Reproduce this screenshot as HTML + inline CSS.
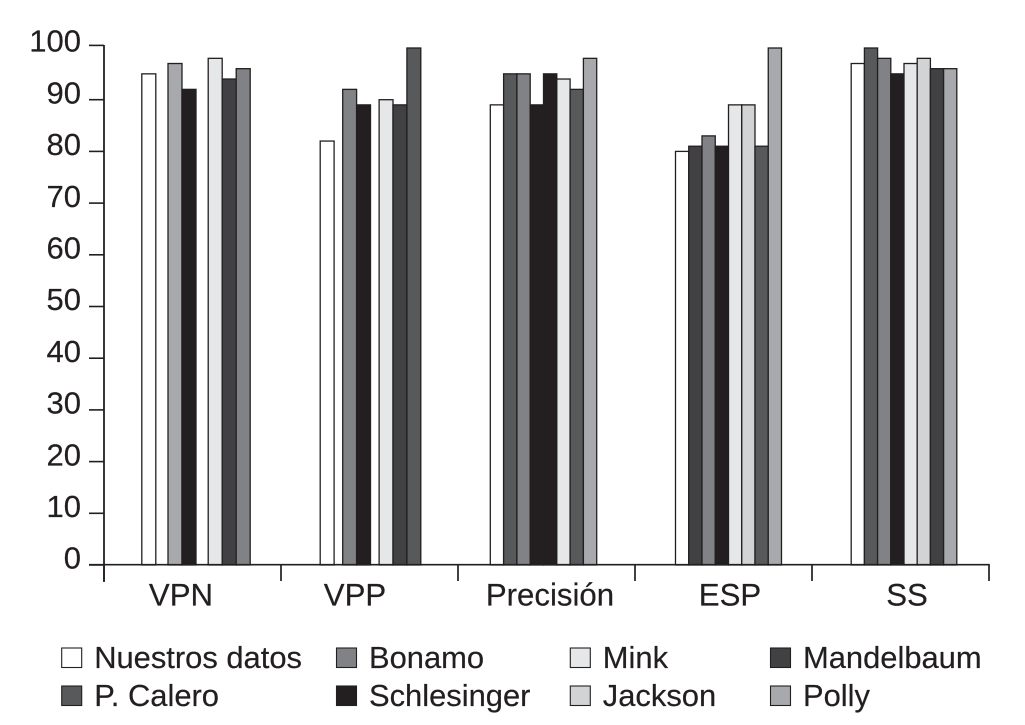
<!DOCTYPE html>
<html lang="es">
<head>
<meta charset="utf-8">
<title>Comparación de series</title>
<style>
  html, body { margin: 0; padding: 0; background: #fff; }
  #chart-wrap { width: 1025px; height: 725px; overflow: hidden; }
  svg { display: block; }
  text { font-family: "Liberation Sans", sans-serif; fill: #231f20; stroke: #231f20; stroke-width: 0.2px; }
</style>
</head>
<body>
<div id="chart-wrap">
<svg id="chart" width="1025" height="725" viewBox="0 0 1025 725" xmlns="http://www.w3.org/2000/svg"></svg>
</div>
<script>
// ---- data ----
const categories = ['VPN', 'VPP', 'Precisión', 'ESP', 'SS'];
const seriesNames = ['Nuestros datos', 'P. Calero', 'Bonamo', 'Schlesinger', 'Mink', 'Jackson', 'Mandelbaum', 'Polly'];
const nuestrosDatos = [95, 82, 89, 80, 97];
const pCalero = [null, null, 95, 81, 100];
const bonamo = [97, 92, 95, 83, 98];
const schlesinger = [92, 89, 89, 81, 95];
const mink = [null, null, 95, 89, 97];
const jackson = [98, 90, 94, 89, 98];
const mandelbaum = [94, 89, 92, 81, 96];
const polly = [96, 100, 98, 100, 96];
const seriesValues = [nuestrosDatos, pCalero, bonamo, schlesinger, mink, jackson, mandelbaum, polly];
const yTicks = [0, 10, 20, 30, 40, 50, 60, 70, 80, 90, 100];

// ---- styling and layout (not data) ----
const INK = '#231f20';
const categoryFills = [
  ['#ffffff', '#58595b', '#a7a9ac', '#231f20', '#e6e7e8', '#e6e7e8', '#414042', '#808285'],
  ['#ffffff', '#58595b', '#808285', '#231f20', '#e6e7e8', '#e6e7e8', '#414042', '#58595b'],
  ['#ffffff', '#58595b', '#808285', '#231f20', '#231f20', '#e6e7e8', '#58595b', '#a7a9ac'],
  ['#ffffff', '#414042', '#808285', '#231f20', '#e6e7e8', '#d1d3d4', '#58595b', '#a7a9ac'],
  ['#ffffff', '#58595b', '#808285', '#231f20', '#e6e7e8', '#d1d3d4', '#414042', '#a7a9ac']
];
const legendFills = ['#ffffff', '#58595b', '#808285', '#231f20', '#e6e7e8', '#d1d3d4', '#414042', '#a7a9ac'];
const groupShift = [3.5, 1, -3, 5, 3.5];
const groupBarWidth = [14, 13.9, 13.3, 13.25, 13.2];
const missingBarGap = [12.2, 8.6, 0, 0, 0];
const categoryLabelShift = [-11.5, -14.5, 3.5, 6.5, 6.5];

const AXIS_X = 104, AXIS_RIGHT = 989, BASE_Y = 565, UNIT = 5.17;
const bandWidth = (AXIS_RIGHT - AXIS_X) / categories.length;
const yScale = v => BASE_Y - v * UNIT;
const bandStart = i => AXIS_X + i * bandWidth;
const bandCenter = i => bandStart(i) + bandWidth / 2;

const svg = document.getElementById('chart');
const NS = 'http://www.w3.org/2000/svg';
function make(tag, attrs, parent) {
  const el = document.createElementNS(NS, tag);
  for (const k in attrs) el.setAttribute(k, attrs[k]);
  (parent || svg).appendChild(el);
  return el;
}

// ---- bars ----
const barsGroup = make('g', {});


categories.forEach((cat, c) => {
  const w = groupBarWidth[c];
  let total = 0;
  seriesValues.forEach(vals => { total += vals[c] === null ? missingBarGap[c] : w; });
  let cursor = bandCenter(c) + groupShift[c] - total / 2;
  seriesValues.forEach((vals, s) => {
    const v = vals[c];
    if (v === null) { cursor += missingBarGap[c]; return; }
    const top = yScale(v);
    const bar = make('rect', {
      x: cursor.toFixed(2), y: top.toFixed(2), width: w, height: (BASE_Y - top).toFixed(2),
      fill: categoryFills[c][s], stroke: INK, 'stroke-width': 1.3
    }, barsGroup);
    
    
    cursor += w;
  });
});

// ---- y axis ----
const yAxis = make('g', {});


const yLine = make('line', { x1: AXIS_X, x2: AXIS_X, y1: yScale(100) - 3, y2: 582, stroke: INK, 'stroke-width': 1.8 }, yAxis);


yTicks.forEach(v => {
  const nudge = v === 100 ? -2.6 : 0;
  const ty = yScale(v) + nudge;
  const tick = make('line', { x1: 89, x2: AXIS_X, y1: ty, y2: ty, stroke: INK, 'stroke-width': 1.6 }, yAxis);
  
  
  const lab = make('text', { x: 81, y: yScale(v) + 3.7, 'text-anchor': 'end', 'font-size': 31 }, yAxis);
  lab.textContent = String(v);
  
  
});

// ---- x axis ----
const xAxis = make('g', {});


const xLine = make('line', { x1: 89, x2: AXIS_RIGHT + 0.8, y1: BASE_Y - 0.3, y2: BASE_Y - 0.3, stroke: INK, 'stroke-width': 1.6 }, xAxis);


for (let i = 0; i <= categories.length; i++) {
  const tx = bandStart(i);
  const tick = make('line', { x1: tx, x2: tx, y1: BASE_Y, y2: 581, stroke: INK, 'stroke-width': 1.7 }, xAxis);
  
  
}
categories.forEach((cat, i) => {
  const lab = make('text', { x: bandCenter(i) + categoryLabelShift[i], y: 605.5, 'text-anchor': 'middle', 'font-size': 31.2 }, xAxis);
  lab.textContent = cat;
  
  
});

// ---- legend ----
const legend = make('g', {});


const legendCols = [61.7, 336.5, 570.3, 770.5];
const legendRows = [648, 686];
seriesNames.forEach((name, s) => {
  const col = Math.floor(s / 2), row = s % 2;
  const entry = make('g', {}, legend);
  
  
  const sw = make('rect', {
    x: legendCols[col], y: legendRows[row], width: 20, height: 19.5,
    fill: legendFills[s], stroke: INK, 'stroke-width': 1.1
  }, entry);
  
  
  const t = make('text', { x: legendCols[col] + 32.5, y: legendRows[row] + 20, 'font-size': 30.9 }, entry);
  t.textContent = name;
  
  
});
</script>
</body>
</html>
